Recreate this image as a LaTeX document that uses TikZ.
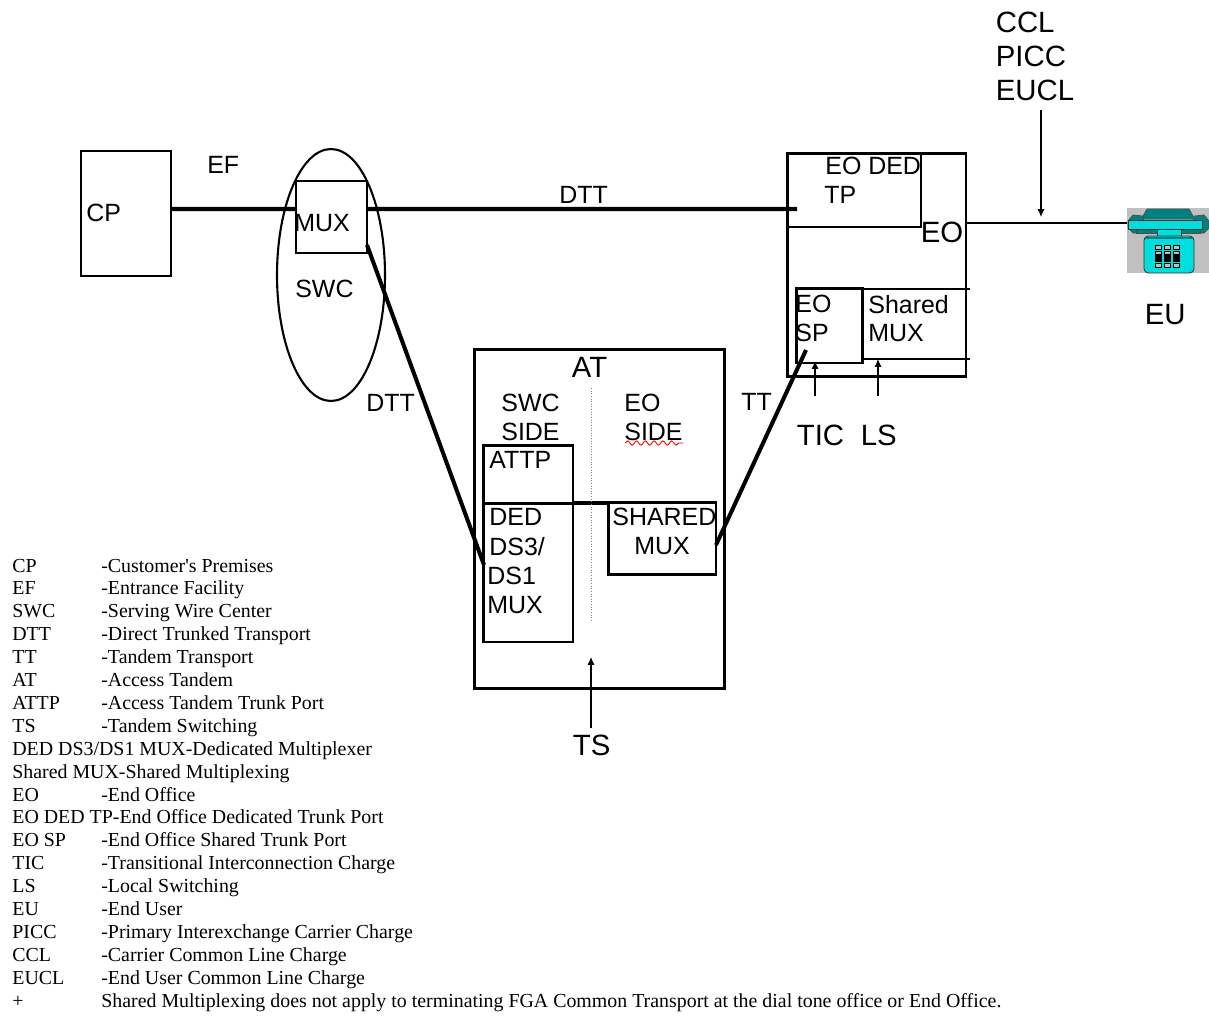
\documentclass[tikz,border=0pt]{standalone}
\usepackage{fontspec}
\setmainfont{Liberation Sans}
\newfontfamily\legendfont{Liberation Serif}
\usetikzlibrary{shapes.geometric, decorations.pathmorphing, arrows.meta}
\definecolor{phonecyan}{RGB}{0,222,222}
\definecolor{phoneteal}{RGB}{0,128,128}
\definecolor{phonegray}{RGB}{192,192,192}
\tikzset{
  box/.style={rectangle, draw, line width=1.7pt, inner sep=0pt, outer sep=0pt},
  lab/.style={anchor=west, inner sep=0pt, xshift=-0.02cm, yshift=-0.005cm, font=\fontsize{14.2}{14.2}\selectfont},
  biglab/.style={anchor=west, inner sep=0pt, xshift=-0.01cm, yshift=-0.01cm, font=\fontsize{16.7}{16.7}\selectfont},
  legend/.style={anchor=base west, inner sep=0pt, font=\legendfont\fontsize{11.32}{11.32}\selectfont},
  trunk/.style={line width=2.3pt},
  pointer/.style={-{Latex[length=4.5pt, width=4pt]}, line width=0.6pt}
}
\begin{document}
\begin{tikzpicture}[x=0.02cm, y=-0.02cm]
\useasboundingbox (0,0) rectangle (1209,1015);

\node[rectangle, draw, line width=0.6pt, outer sep=0pt, minimum width=1.8cm, minimum height=2.5cm] (cp) at (126,213.5) {};
\node[ellipse, draw, line width=1.2pt, minimum width=2.16cm, minimum height=5.04cm, inner sep=0pt] (swc) at (331,275) {};
\node[rectangle, draw, line width=0.6pt, outer sep=0pt, minimum width=1.42cm, minimum height=1.44cm] (mux) at (331.5,217) {};
\node[box, minimum width=3.58cm, minimum height=4.48cm] (eo) at (876.5,265) {};
\node[box, minimum width=2.68cm, minimum height=1.48cm] (eoded) at (854,190) {};
\node[box, minimum width=1.32cm, minimum height=1.5cm] (eosp) at (829,325.5) {};
\node[box, minimum width=5.02cm, minimum height=6.8cm] (at) at (599.5,519) {};
\node[box, minimum width=1.8cm, minimum height=1.16cm] (attp) at (528,474) {};
\node[box, minimum width=1.8cm, minimum height=2.78cm] (ded) at (528,572.5) {};
\node[box, minimum width=2.16cm, minimum height=1.44cm] (shared) at (662,538) {};

\coordinate (dttend) at (797,209);
\coordinate (dedin) at (484,565);
\coordinate (muxout) at (367,245);
\coordinate (sharedout) at (716,545);
\coordinate (spin) at (806,350);
\coordinate (sharedtop) at (970,289);
\coordinate (sharedbot) at (970,359);
\coordinate (eoline) at (966,223);
\coordinate (sidetop) at (591,388);
\coordinate (sidebot) at (591,622);
\coordinate (wavya) at (625,443);
\coordinate (wavyb) at (683,443);

\node[rectangle, fill=phonegray, minimum width=1.64cm, minimum height=1.3cm, inner sep=0pt] (phone) at (1168,240.5) {};

\draw[trunk] (cp.east |- dttend) -- (mux.west |- dttend)
             (mux.east |- dttend) -- (dttend)
             (muxout) -- (dedin)
             (sharedout) -- (spin);
\draw[line width=2pt] (ded.north east) -- (shared.west |- ded.north east);
\draw[line width=0.6pt] (eosp.east |- sharedtop) -- (sharedtop)
                        (eosp.east |- sharedbot) -- (sharedbot);
\draw[line width=1pt] (eoline) -- (phone.west |- eoline);
\draw[gray, densely dotted, line width=0.5pt] (sidetop) -- (sidebot);
\draw[red, line width=0.5pt, decorate, decoration={snake, amplitude=1.2pt, segment length=5pt}] (wavya) -- (wavyb);

\coordinate (cclfrom) at (1041,110);
\coordinate (cclto) at (1041,217);
\coordinate (ticfrom) at (815,396);
\coordinate (ticto) at (815,361);
\coordinate (lsfrom) at (878,396);
\coordinate (lsto) at (878,359);
\coordinate (tsfrom) at (591,728);
\coordinate (tsto) at (591,657);
\draw[pointer] (cclfrom) -- (cclto);
\draw[pointer] (ticfrom) -- (ticto);
\draw[pointer] (lsfrom) -- (lsto);
\draw[pointer] (tsfrom) -- (tsto);

\fill[phoneteal, draw=black!70, line width=0.4pt] (1143,216) -- (1147,209) -- (1189,209) -- (1193,216) -- (1193,219) -- (1143,219) -- cycle;
\fill[phoneteal, draw=black!70, line width=0.4pt] (1128,221) -- (1133,215) -- (1143,216) -- (1145,233) -- (1133,233) -- (1128,228) -- cycle;
\fill[phoneteal, draw=black!70, line width=0.4pt] (1209,221) -- (1204,215) -- (1194,216) -- (1192,233) -- (1204,233) -- (1209,228) -- cycle;
\fill[phoneteal, draw=black!70, line width=0.4pt] (1136,229) rectangle (1200,233);
\fill[phonecyan, draw=black!80, line width=0.5pt] (1157,229) rectangle (1181,236);
\fill[phonecyan, draw=black!80, line width=0.5pt] (1128,220) rectangle (1202,229);
\fill[phonecyan, draw=black!80, line width=0.5pt, rounded corners=2.5pt] (1144,236) rectangle (1194,273);
\fill[phoneteal] (1145,236.5) rectangle (1193,239);
\foreach \keyx in {1155,1164,1173} {
  \fill[black] (\keyx,245) rectangle ++(7,5);
  \fill[phonegray] (\keyx+1,246) rectangle ++(5,3);
  \fill[black] (\keyx,251) rectangle ++(7,11);
  \fill[phonegray] (\keyx+1,252) rectangle ++(5,2);
  \fill[black] (\keyx,263) rectangle ++(7,5);
  \fill[phonegray] (\keyx+1,264) rectangle ++(5,3);
}

\node[lab] (cplab) at (87,213) {CP};
\node[lab] (eflab) at (208,165) {EF};
\node[lab] (muxlab) at (295,223) {MUX};
\node[lab] (swclab) at (296,289) {SWC};
\node[lab] (dttalab) at (560,195) {DTT};
\node[lab] (dttblab) at (367,403) {DTT};
\node[lab] (ttlab) at (742,402) {TT};
\node[lab] (eodedlab) at (826,166) {EO DED};
\node[lab] (tplab) at (825,195) {TP};
\node[lab] (eosplab) at (796,304) {EO};
\node[lab] (splab) at (796,333) {SP};
\node[lab] (sharedlab) at (869,304) {Shared};
\node[lab] (sharedmuxlab) at (869,333) {MUX};
\node[lab] (swcsidelab) at (502,403) {SWC};
\node[lab] (sidealab) at (502,432) {SIDE};
\node[lab] (eosidelab) at (625,403) {EO};
\node[lab] (sideblab) at (625,432) {SIDE};
\node[lab] (attplab) at (490,460) {ATTP};
\node[lab] (dedlab) at (490,517) {DED};
\node[lab] (ds3lab) at (490,546) {DS3/};
\node[lab] (ds1lab) at (488,576) {DS1};
\node[lab] (dedmuxlab) at (488,605) {MUX};
\node[lab] (sharedcaplab) at (613,517) {SHARED};
\node[lab] (sharedcapmux) at (635,546) {MUX};

\node[biglab] (cclab) at (996,22) {CCL};
\node[biglab] (picclab) at (996,56) {PICC};
\node[biglab] (euclab) at (996,90) {EUCL};
\node[biglab] (eolab) at (921,232) {EO};
\node[biglab] (eulab) at (1145,314) {EU};
\node[biglab] (atlab) at (572,367) {AT};
\node[biglab] (ticlab) at (797,435) {TIC};
\node[biglab] (lslab) at (861,435) {LS};
\node[biglab] (tslab) at (573,745) {TS};

\foreach \i/\abbr/\full in {
  0/CP/-Customer's Premises,
  1/EF/-Entrance Facility,
  2/SWC/-Serving Wire Center,
  3/DTT/-Direct Trunked Transport,
  4/TT/-Tandem Transport,
  5/AT/-Access Tandem,
  6/ATTP/-Access Tandem Trunk Port,
  7/TS/-Tandem Switching,
  10/EO/-End Office,
  12/EO SP/-End Office Shared Trunk Port,
  13/TIC/-Transitional Interconnection Charge,
  14/LS/-Local Switching,
  15/EU/-End User,
  16/PICC/-Primary Interexchange Carrier Charge,
  17/CCL/-Carrier Common Line Charge,
  18/EUCL/-End User Common Line Charge,
  19/+/Shared Multiplexing does not apply to terminating FGA Common Transport at the dial tone office or End Office.} {
  \node[legend] (abbr\i) at (12,572+22.9*\i) {\abbr};
  \node[legend] (full\i) at (101,572+22.9*\i) {\full};
}
\node[legend] (abbr8) at (12,755.2) {DED DS3/DS1 MUX-Dedicated Multiplexer};
\node[legend] (abbr9) at (12,778.1) {Shared MUX-Shared Multiplexing};
\node[legend] (abbr11) at (12,823.9) {EO DED TP-End Office Dedicated Trunk Port};
\end{tikzpicture}
\end{document}
